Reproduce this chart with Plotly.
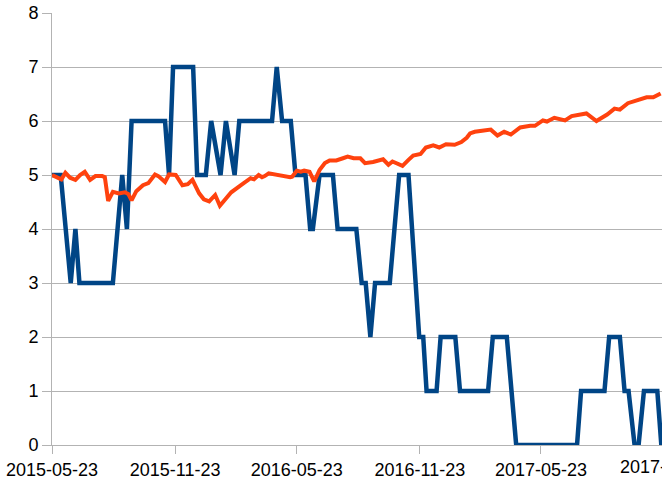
import pandas as pd
import plotly.graph_objects as go

start_date = "2015-05-23"

# Series 1 (blue): days since start date, value
blue_days = [0, 13, 28, 35, 41, 91, 105, 112, 119, 169, 175, 181, 211, 217, 230, 238,
             252, 260, 273, 280, 329, 336, 344, 357, 364, 379, 386, 390, 400, 420, 427,
             455, 463, 469, 476, 483, 505, 519, 533, 549, 555, 560, 575, 581, 603, 610,
             652, 659, 680, 694, 785, 791, 826, 833, 849, 856, 862, 871, 877, 885, 905, 911]
blue_vals = [5, 5, 3, 4, 3, 3, 5, 4, 6, 6, 5, 7, 7, 5, 5, 6,
             5, 6, 5, 6, 6, 7, 6, 6, 5, 5, 4, 4, 5, 5, 4,
             4, 3, 3, 2, 3, 3, 5, 5, 2, 2, 1, 1, 2, 2, 1,
             1, 2, 2, 0, 0, 1, 1, 2, 2, 1, 1, 0, 0, 1, 1, 0]

# Series 2 (orange)
orange_days = [0, 9, 14, 20, 27, 35, 42, 49, 57, 65, 75, 79, 84, 91, 100, 109, 114, 119,
               126, 136, 144, 154, 159, 169, 175, 185, 195, 203, 210, 220, 227, 235, 244,
               251, 259, 268, 281, 289, 297, 302, 309, 314, 318, 324, 332, 345, 356, 359,
               366, 372, 377, 385, 392, 400, 408, 415, 425, 435, 442, 451, 461, 468, 480,
               495, 503, 509, 514, 524, 533, 540, 551, 559, 570, 579, 589, 602, 612, 620,
               625, 632, 643, 656, 666, 676, 686, 700, 715, 722, 734, 740, 751, 767, 777,
               799, 814, 830, 841, 849, 861, 877, 889, 899, 910]
orange_vals = [5.00, 4.94, 4.92, 5.04, 4.95, 4.91, 5.00, 5.06, 4.91, 4.98, 4.98, 4.96,
               4.52, 4.69, 4.66, 4.68, 4.65, 4.53, 4.70, 4.81, 4.85, 5.01, 4.98, 4.87,
               5.01, 5.00, 4.81, 4.83, 4.91, 4.66, 4.55, 4.51, 4.63, 4.43, 4.55, 4.68,
               4.80, 4.88, 4.94, 4.92, 5.00, 4.96, 4.98, 5.03, 5.01, 4.97, 4.96, 4.97,
               5.08, 5.06, 5.08, 5.06, 4.88, 5.09, 5.22, 5.27, 5.27, 5.31, 5.34, 5.31,
               5.31, 5.22, 5.24, 5.29, 5.19, 5.25, 5.22, 5.17, 5.28, 5.36, 5.39, 5.51,
               5.55, 5.51, 5.57, 5.56, 5.61, 5.69, 5.77, 5.80, 5.82, 5.84, 5.73, 5.80,
               5.75, 5.88, 5.91, 5.91, 6.01, 5.99, 6.06, 6.01, 6.09, 6.14, 6.00, 6.12,
               6.23, 6.21, 6.33, 6.40, 6.44, 6.44, 6.51]

tick_dates = ["2015-05-23", "2015-11-23", "2016-05-23", "2016-11-23", "2017-05-23"]
cut_tick_label = "2017-11-23"
x_end = "2017-11-20"

t0 = pd.Timestamp(start_date)
blue_x = t0 + pd.to_timedelta(blue_days, unit="D")
orange_x = t0 + pd.to_timedelta(orange_days, unit="D")

FONT = "Liberation Sans, Arial, sans-serif"
GRID = "#b3b3b3"

fig = go.Figure()
fig.add_trace(go.Scatter(x=blue_x, y=blue_vals, mode="lines",
                         line=dict(color="#004586", width=4.5), cliponaxis=False,
                         showlegend=False))
fig.add_trace(go.Scatter(x=orange_x, y=orange_vals, mode="lines",
                         line=dict(color="#ff420e", width=4), cliponaxis=False,
                         showlegend=False))

fig.update_layout(
    width=662, height=491,
    margin=dict(l=52, r=0, t=13, b=46),
    paper_bgcolor="white", plot_bgcolor="white",
    font=dict(family=FONT, size=18, color="black"),
    xaxis=dict(range=[start_date, x_end], type="date",
               tickvals=tick_dates, ticktext=tick_dates,
               showgrid=False, zeroline=False,
               showline=True, linecolor=GRID, linewidth=1,
               ticks="outside", ticklen=8, tickcolor=GRID, tickwidth=1,
               tickfont=dict(family=FONT, size=18, color="black")),
    yaxis=dict(range=[0, 8], dtick=1, tick0=0,
               showgrid=True, gridcolor=GRID, gridwidth=1,
               zeroline=False, showline=True, linecolor=GRID, linewidth=1,
               ticks="outside", ticklen=9, tickcolor=GRID, tickwidth=1,
               tickfont=dict(family=FONT, size=18, color="black")),
    annotations=[dict(text=cut_tick_label, xref="paper", yref="paper",
                      x=1.005, y=0, xanchor="center", yanchor="top", yshift=-10,
                      showarrow=False, font=dict(family=FONT, size=18, color="black"))],
)

fig.write_html("out.html")
